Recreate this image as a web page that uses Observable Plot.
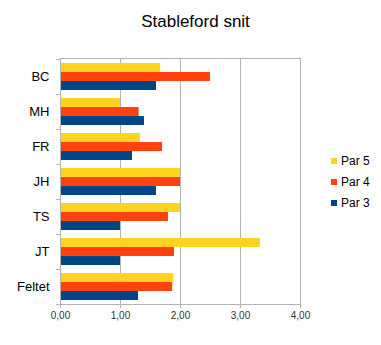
<!DOCTYPE html>
<html>
<head>
<meta charset="utf-8">
<script src="https://cdn.jsdelivr.net/npm/d3@7"></script>
<script src="https://cdn.jsdelivr.net/npm/@observablehq/plot@0.6"></script>
<style>
  html, body { margin: 0; padding: 0; background: #fff; }
  #wrap { position: relative; width: 381px; height: 345px; font-family: "Liberation Sans", Arial, sans-serif; }
  #title { position: absolute; left: 0; top: 12px; width: 391px; text-align: center; font-size: 17px; color: #000; }
  #legend { position: absolute; left: 331px; top: 151px; font-size: 12px; color: #000; }
  .item { display: flex; align-items: center; height: 20.7px; }
  .sw { width: 6px; height: 6px; margin-right: 4px; }
</style>
</head>
<body>
<div id="wrap">
  <div id="title">Stableford snit</div>
  <div id="legend"></div>
</div>
<script>
const categories = ["BC", "MH", "FR", "JH", "TS", "JT", "Feltet"];
const par5 = [1.67, 1.0, 1.33, 2.0, 2.0, 3.33, 1.89];
const par4 = [2.5, 1.31, 1.7, 2.0, 1.8, 1.9, 1.87];
const par3 = [1.6, 1.4, 1.2, 1.6, 1.0, 1.0, 1.3];
const seriesNames = ["Par 5", "Par 4", "Par 3"];
const seriesValues = [par5, par4, par3];
const colors = ["#FFD320", "#FF420E", "#004586"];
const xTicks = [0, 1, 2, 3, 4];

const data = [];
seriesNames.forEach((s, i) => categories.forEach((c, j) => data.push({cat: c, series: s, value: seriesValues[i][j]})));

const W = 381, H = 345, mL = 60, mR = 81, mT = 58, mB = 41;
const padInner = 0.23, padOuter = 0.115;
const step = (H - mT - mB) / (categories.length - padInner + 2 * padOuter);
const bw = step * (1 - padInner);
const third = bw / 3;
const grid = "#b3b3b3";
const fmt = d => d.toFixed(2).replace(".", ",");

const barMarks = seriesNames.map((s, i) =>
  Plot.barX(data.filter(d => d.series === s), {
    x: "value", y: "cat", fill: "series",
    insetTop: i * third, insetBottom: (2 - i) * third
  })
);

const chart = Plot.plot({
  width: W, height: H,
  marginLeft: mL, marginRight: mR, marginTop: mT, marginBottom: mB,
  style: {fontFamily: "Liberation Sans, Arial, sans-serif", background: "transparent"},
  x: {domain: [0, 4]},
  y: {domain: categories, paddingInner: padInner, paddingOuter: padOuter},
  color: {domain: seriesNames, range: colors},
  marks: [
    Plot.gridX(xTicks, {stroke: grid, strokeOpacity: 1}),
    ...barMarks,
    Plot.frame({stroke: grid}),
    Plot.axisX(xTicks, {tickFormat: fmt, tickSize: 4, tickPadding: 3, stroke: grid, fill: "#333", fontSize: 10, label: null}),
    Plot.axisY({tickSize: 0, tickPadding: 11, fontSize: 13, fill: "#000", label: null}),
    Plot.axisY({tickSize: 4, tickFormat: () => "", stroke: grid, dy: -step / 2, label: null}),
    Plot.axisY([categories[categories.length - 1]], {tickSize: 4, tickFormat: () => "", stroke: grid, dy: step / 2, label: null})
  ]
});
const wrap = document.getElementById("wrap");
chart.style.position = "absolute";
chart.style.left = "0";
chart.style.top = "0";
wrap.insertBefore(chart, wrap.firstChild);

const legend = document.getElementById("legend");
seriesNames.forEach((s, i) => {
  const it = document.createElement("div");
  it.className = "item";
  const sw = document.createElement("span");
  sw.className = "sw";
  sw.style.background = colors[i];
  const t = document.createElement("span");
  t.textContent = s;
  it.appendChild(sw); it.appendChild(t);
  legend.appendChild(it);
});
</script>
</body>
</html>
